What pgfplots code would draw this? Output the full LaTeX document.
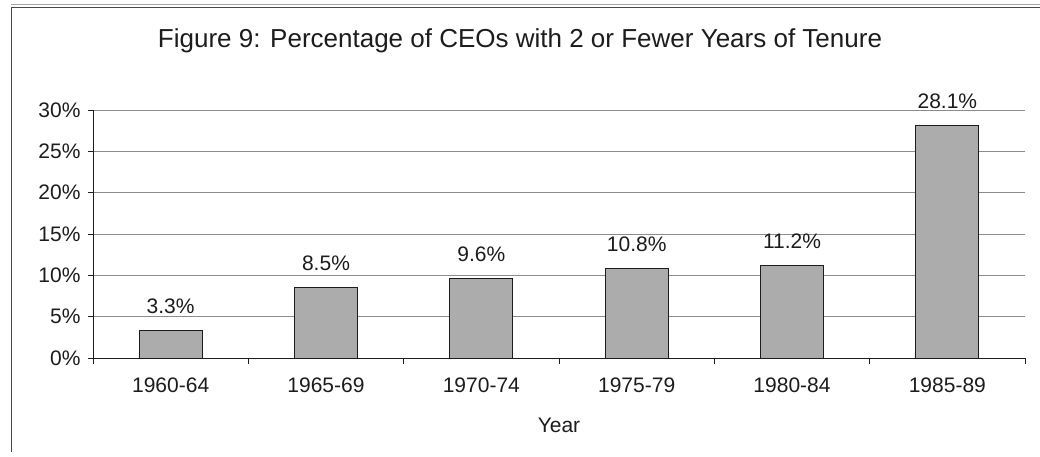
\documentclass[border=0pt]{standalone}
\usepackage{fontspec}
\setmainfont{Liberation Sans}
\usepackage{pgfplots}
\pgfplotsset{compat=1.18}

\definecolor{barfill}{RGB}{172,172,172}
\definecolor{ink}{RGB}{28,28,28}
\definecolor{gridgray}{RGB}{140,140,140}

\begin{document}
\begin{tikzpicture}[x=1pt,y=1pt]
\useasboundingbox (0,0) rectangle (1040,457);
% frame of the figure box
\draw[gray!70, line width=0.6pt] (11,453) -- (1040,453);
\draw[ink!80, line width=0.9pt] (11,450) -- (1040,450);
\draw[ink!80, line width=0.9pt] (11,450) -- (11,5);
% title
\node[anchor=base, text=ink, font=\fontsize{26}{30}\selectfont] at (520,409)
  {Figure 9: Percentage of CEOs with 2 or Fewer Years of Tenure};
\begin{axis}[
  at={(93pt,99pt)}, anchor=south west,
  scale only axis, width=932pt, height=248pt,
  xmin=-0.5, xmax=5.5, ymin=0, ymax=30,
  axis x line*=bottom, axis y line*=left,
  axis line style={ink, line width=0.8pt},
  ytick={0,5,...,30},
  yticklabels={0\%,5\%,10\%,15\%,20\%,25\%,30\%},
  ymajorgrids, grid style={gridgray, line width=0.6pt},
  xtick={0,...,5},
  xticklabels={1960-64,1965-69,1970-74,1975-79,1980-84,1985-89},
  major x tick style={draw=none},
  minor xtick={-0.5,0.5,...,5.5},
  tick align=outside, major tick length=5pt, minor tick length=6pt,
  tick style={ink, line width=0.8pt},
  ticklabel style={text=ink, font=\fontsize{21}{25}\selectfont},
  yticklabel style={xshift=-4pt},
  xticklabel style={yshift=-11pt},
  xlabel={Year},
  xlabel style={at={(axis description cs:0.5,0)}, anchor=base, yshift=-75pt,
    text=ink, font=\fontsize{21}{25}\selectfont},
  /pgf/number format/assume math mode=true,
  ybar, bar width=63pt,
  nodes near coords={\pgfmathprintnumber[fixed,fixed zerofill,precision=1]{\pgfplotspointmeta}\%},
  every node near coord/.append style={anchor=base, yshift=17pt, text=ink,
    font=\fontsize{21}{25}\selectfont},
  clip=false,
]
\addplot[fill=barfill, draw=ink, line width=0.8pt] coordinates {
  (0,3.3) (1,8.5) (2,9.6) (3,10.8) (4,11.2) (5,28.1)
};
\end{axis}
\end{tikzpicture}
\end{document}
